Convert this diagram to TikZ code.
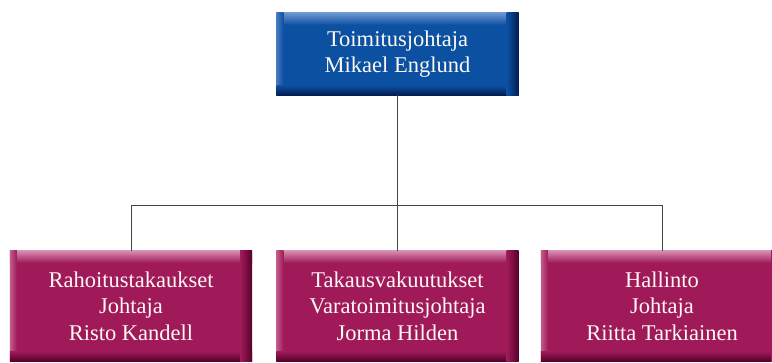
\documentclass[tikz,border=0pt]{standalone}
\usepackage{fontspec}
\setmainfont{Liberation Serif}
\usetikzlibrary{backgrounds}
\definecolor{blueMain}{RGB}{12,80,162}
\definecolor{blueLight}{RGB}{110,150,210}
\definecolor{blueDark}{RGB}{4,28,80}
\definecolor{magMain}{RGB}{160,26,90}
\definecolor{magLight}{RGB}{215,140,175}
\definecolor{magDark}{RGB}{85,0,40}
\definecolor{lineGray}{RGB}{70,70,70}
\definecolor{txt}{RGB}{252,248,244}
\tikzset{
  box/.style={minimum width=242pt, align=center, text=txt, inner sep=0pt,
    font=\fontsize{22.5}{26.5}\selectfont},
  topbox/.style={box, minimum height=82pt},
  subbox/.style={box, minimum height=110pt},
  conn/.style={draw=lineGray, line width=0.8pt}
}
\newcommand{\bevelbox}[4]{%
  \fill[#3] (#1.north west) rectangle (#1.south east);
  \shade[top color=#2, bottom color=#3] (#1.north west) rectangle ([yshift=-12pt]#1.north east);
  \shade[left color=#2!60!#3, right color=#3] (#1.north west) rectangle ([xshift=7pt]#1.south west);
  \shade[top color=#3, bottom color=#4] ([yshift=10pt]#1.south west) rectangle (#1.south east);
  \shade[left color=#3, right color=#4] ([xshift=-12pt]#1.north east) rectangle (#1.south east);
}
\begin{document}
\begin{tikzpicture}[x=1pt,y=-1pt]
\useasboundingbox (0,0) rectangle (772,362);
\clip (0,0) rectangle (772,362);
\node[topbox] (ceo) at (397.5,54) {Toimitusjohtaja\\Mikael Englund};
\node[subbox] (rah) at (131,306) {Rahoitustakaukset\\Johtaja\\Risto Kandell};
\node[subbox] (tak) at (397.5,306) {Takausvakuutukset\\Varatoimitusjohtaja\\Jorma Hilden};
\node[subbox] (hal) at (662,306) {Hallinto\\Johtaja\\Riitta Tarkiainen};
\coordinate (j) at (397.5,205);
\begin{scope}[on background layer]
  \bevelbox{ceo}{blueLight}{blueMain}{blueDark}
  \bevelbox{rah}{magLight}{magMain}{magDark}
  \bevelbox{tak}{magLight}{magMain}{magDark}
  \bevelbox{hal}{magLight}{magMain}{magDark}
\end{scope}
\draw[conn] (ceo.south) -- (j);
\draw[conn] (j) -- (tak.north);
\draw[conn] (rah.north) |- (j);
\draw[conn] (j) -| (hal.north);
\end{tikzpicture}
\end{document}
